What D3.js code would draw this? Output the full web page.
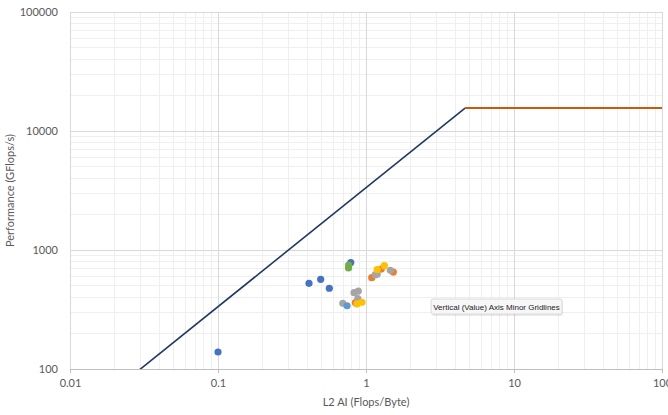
<!DOCTYPE html>
<html>
<head>
<meta charset="utf-8">
<script src="https://cdn.jsdelivr.net/npm/d3@7"></script>
<style>
  html, body { margin: 0; padding: 0; background: #ffffff; }
  svg { display: block; font-family: Lato, "Open Sans", "Liberation Sans", sans-serif; }
</style>
</head>
<body>
<svg id="chart" width="668" height="415"></svg>
<script>
// Roofline parameters
const peakGflops = 15600;      // compute ceiling (GFlops/s)
const l2Bandwidth = 3340;      // L2 bandwidth (GB/s)

// Axis ticks
const xTickValues = [0.01, 0.1, 1, 10, 100];
const xTickLabels = ["0.01", "0.1", "1", "10", "100"];
const yTickValues = [100, 1000, 10000, 100000];
const yTickLabels = ["100", "1000", "10000", "100000"];

// Kernel measurements, one list per series: [AI, GFlops/s]
const seriesNames = ["kernelA", "kernelB", "kernelC", "kernelD", "kernelE", "kernelF"];
const seriesColors = ["#4472c4", "#ed7d31", "#a5a5a5", "#ffc000", "#5b9bd5", "#70ad47"];
const kernelA = [[0.1, 139], [0.412, 525], [0.494, 567], [0.565, 477], [0.789, 785]];
const kernelB = [[0.848, 361], [1.093, 585], [1.268, 692], [1.53, 653]];
const kernelC = [[0.83, 438], [0.887, 452], [0.88, 390], [0.697, 357], [1.156, 620], [1.19, 625], [1.459, 675]];
const kernelD = [[0.869, 352], [0.939, 363], [1.19, 683], [1.33, 738]];
const kernelE = [[0.745, 340]];
const kernelF = [[0.764, 748], [0.762, 706]];
const seriesData = [kernelA, kernelB, kernelC, kernelD, kernelE, kernelF];

const svg = d3.select("#chart");
const plotL = 70, plotR = 662, plotT = 12, plotB = 369;

const x = d3.scaleLog().domain([0.01, 100]).range([plotL, plotR]);
const y = d3.scaleLog().domain([100, 100000]).range([plotB, plotT]);

// minor and major gridlines
function minorValues(lo, hi) {
  const out = [];
  for (let d = lo; d < hi * 0.999; d *= 10) for (let k = 2; k <= 9; k++) out.push(d * k);
  return out;
}
const grid = svg.append("g");
grid.selectAll(".xminor").data(minorValues(0.01, 100)).enter().append("line")
  .attr("x1", d => x(d)).attr("x2", d => x(d)).attr("y1", plotT).attr("y2", plotB)
  .attr("stroke", "#efefef").attr("stroke-width", 1).attr("shape-rendering", "crispEdges");
grid.selectAll(".yminor").data(minorValues(100, 100000)).enter().append("line")
  .attr("x1", plotL).attr("x2", plotR).attr("y1", d => y(d)).attr("y2", d => y(d))
  .attr("stroke", "#efefef").attr("stroke-width", 1).attr("shape-rendering", "crispEdges");
grid.selectAll(".xmajor").data(xTickValues).enter().append("line")
  .attr("x1", d => x(d)).attr("x2", d => x(d)).attr("y1", plotT).attr("y2", plotB)
  .attr("stroke", "#d9d9d9").attr("stroke-width", 1).attr("shape-rendering", "crispEdges");
grid.selectAll(".ymajor").data(yTickValues).enter().append("line")
  .attr("x1", plotL).attr("x2", plotR).attr("y1", d => y(d)).attr("y2", d => y(d))
  .attr("stroke", "#d9d9d9").attr("stroke-width", 1).attr("shape-rendering", "crispEdges");

// axes
const xAxis = d3.axisBottom(x).tickValues(xTickValues)
  .tickFormat((d, i) => xTickLabels[i]).tickSize(4).tickPadding(6);
const yAxis = d3.axisLeft(y).tickValues(yTickValues)
  .tickFormat((d, i) => yTickLabels[i]).tickSize(0).tickPadding(12);

const gx = svg.append("g").attr("transform", `translate(0,${plotB})`).call(xAxis);
const gy = svg.append("g").attr("transform", `translate(${plotL},0)`).call(yAxis);
[gx, gy].forEach(g => {
  g.select(".domain").attr("stroke", "#bfbfbf").attr("shape-rendering", "crispEdges");
  g.selectAll(".tick line").attr("stroke", "#bfbfbf").attr("shape-rendering", "crispEdges");
  g.selectAll(".tick text").attr("fill", "#595959").style("font-size", "11px")
    .style("font-family", "Lato, 'Open Sans', sans-serif");
});
gy.select(".domain").attr("d", `M0,${plotB}V${plotT}`).attr("stroke", "#d9d9d9");
gx.select(".domain").attr("d", `M${plotL},0H${plotR}`);

// roofline
svg.append("clipPath").attr("id", "plotclip").append("rect")
  .attr("x", plotL).attr("y", plotT).attr("width", plotR - plotL).attr("height", plotB - plotT);
const ridge = peakGflops / l2Bandwidth;
const memRoof = [0.01, ridge].map(a => [a, Math.min(a * l2Bandwidth, peakGflops)]);
const compRoof = [[ridge, peakGflops], [100, peakGflops]];
const line = d3.line().x(d => x(d[0])).y(d => y(d[1]));
const roof = svg.append("g").attr("clip-path", "url(#plotclip)");
roof.append("path").datum(memRoof).attr("d", line)
  .attr("fill", "none").attr("stroke", "#203864").attr("stroke-width", 1.6);
roof.append("path").datum(compRoof).attr("d", line)
  .attr("fill", "none").attr("stroke", "#c55a11").attr("stroke-width", 1.8);

// measured points
const pts = svg.append("g");
seriesData.forEach((data, i) => {
  pts.selectAll(`.s${i}`).data(data).enter().append("circle")
    .attr("class", seriesNames[i])
    .attr("cx", d => x(d[0])).attr("cy", d => y(d[1])).attr("r", 3.6)
    .attr("fill", seriesColors[i]);
});

// axis titles
svg.append("text").attr("x", (plotL + plotR) / 2).attr("y", 406)
  .attr("text-anchor", "middle").attr("fill", "#595959").style("font-size", "11px")
  .text("L2 AI (Flops/Byte)");
svg.append("text").attr("transform", `translate(14,${(plotT + plotB) / 2}) rotate(-90)`)
  .attr("text-anchor", "middle").attr("fill", "#595959").style("font-size", "11px")
  .text("Performance (GFlops/s)");

// hover hint box
const tip = svg.append("g").attr("transform", "translate(431,299)");
tip.append("rect").attr("x", 1).attr("y", 1).attr("width", 131).attr("height", 16)
  .attr("fill", "#000").attr("opacity", 0.08).attr("rx", 2);
tip.append("rect").attr("width", 131).attr("height", 15)
  .attr("fill", "#f7f7f7").attr("stroke", "#cfcfcf").attr("stroke-width", 0.7).attr("rx", 2);
tip.append("text").attr("x", 65.5).attr("y", 10.5).attr("text-anchor", "middle")
  .attr("fill", "#222").style("font-size", "8px").style("font-family", "'Liberation Sans', Arial, sans-serif")
  .text("Vertical (Value) Axis Minor Gridlines");
</script>
</body>
</html>
